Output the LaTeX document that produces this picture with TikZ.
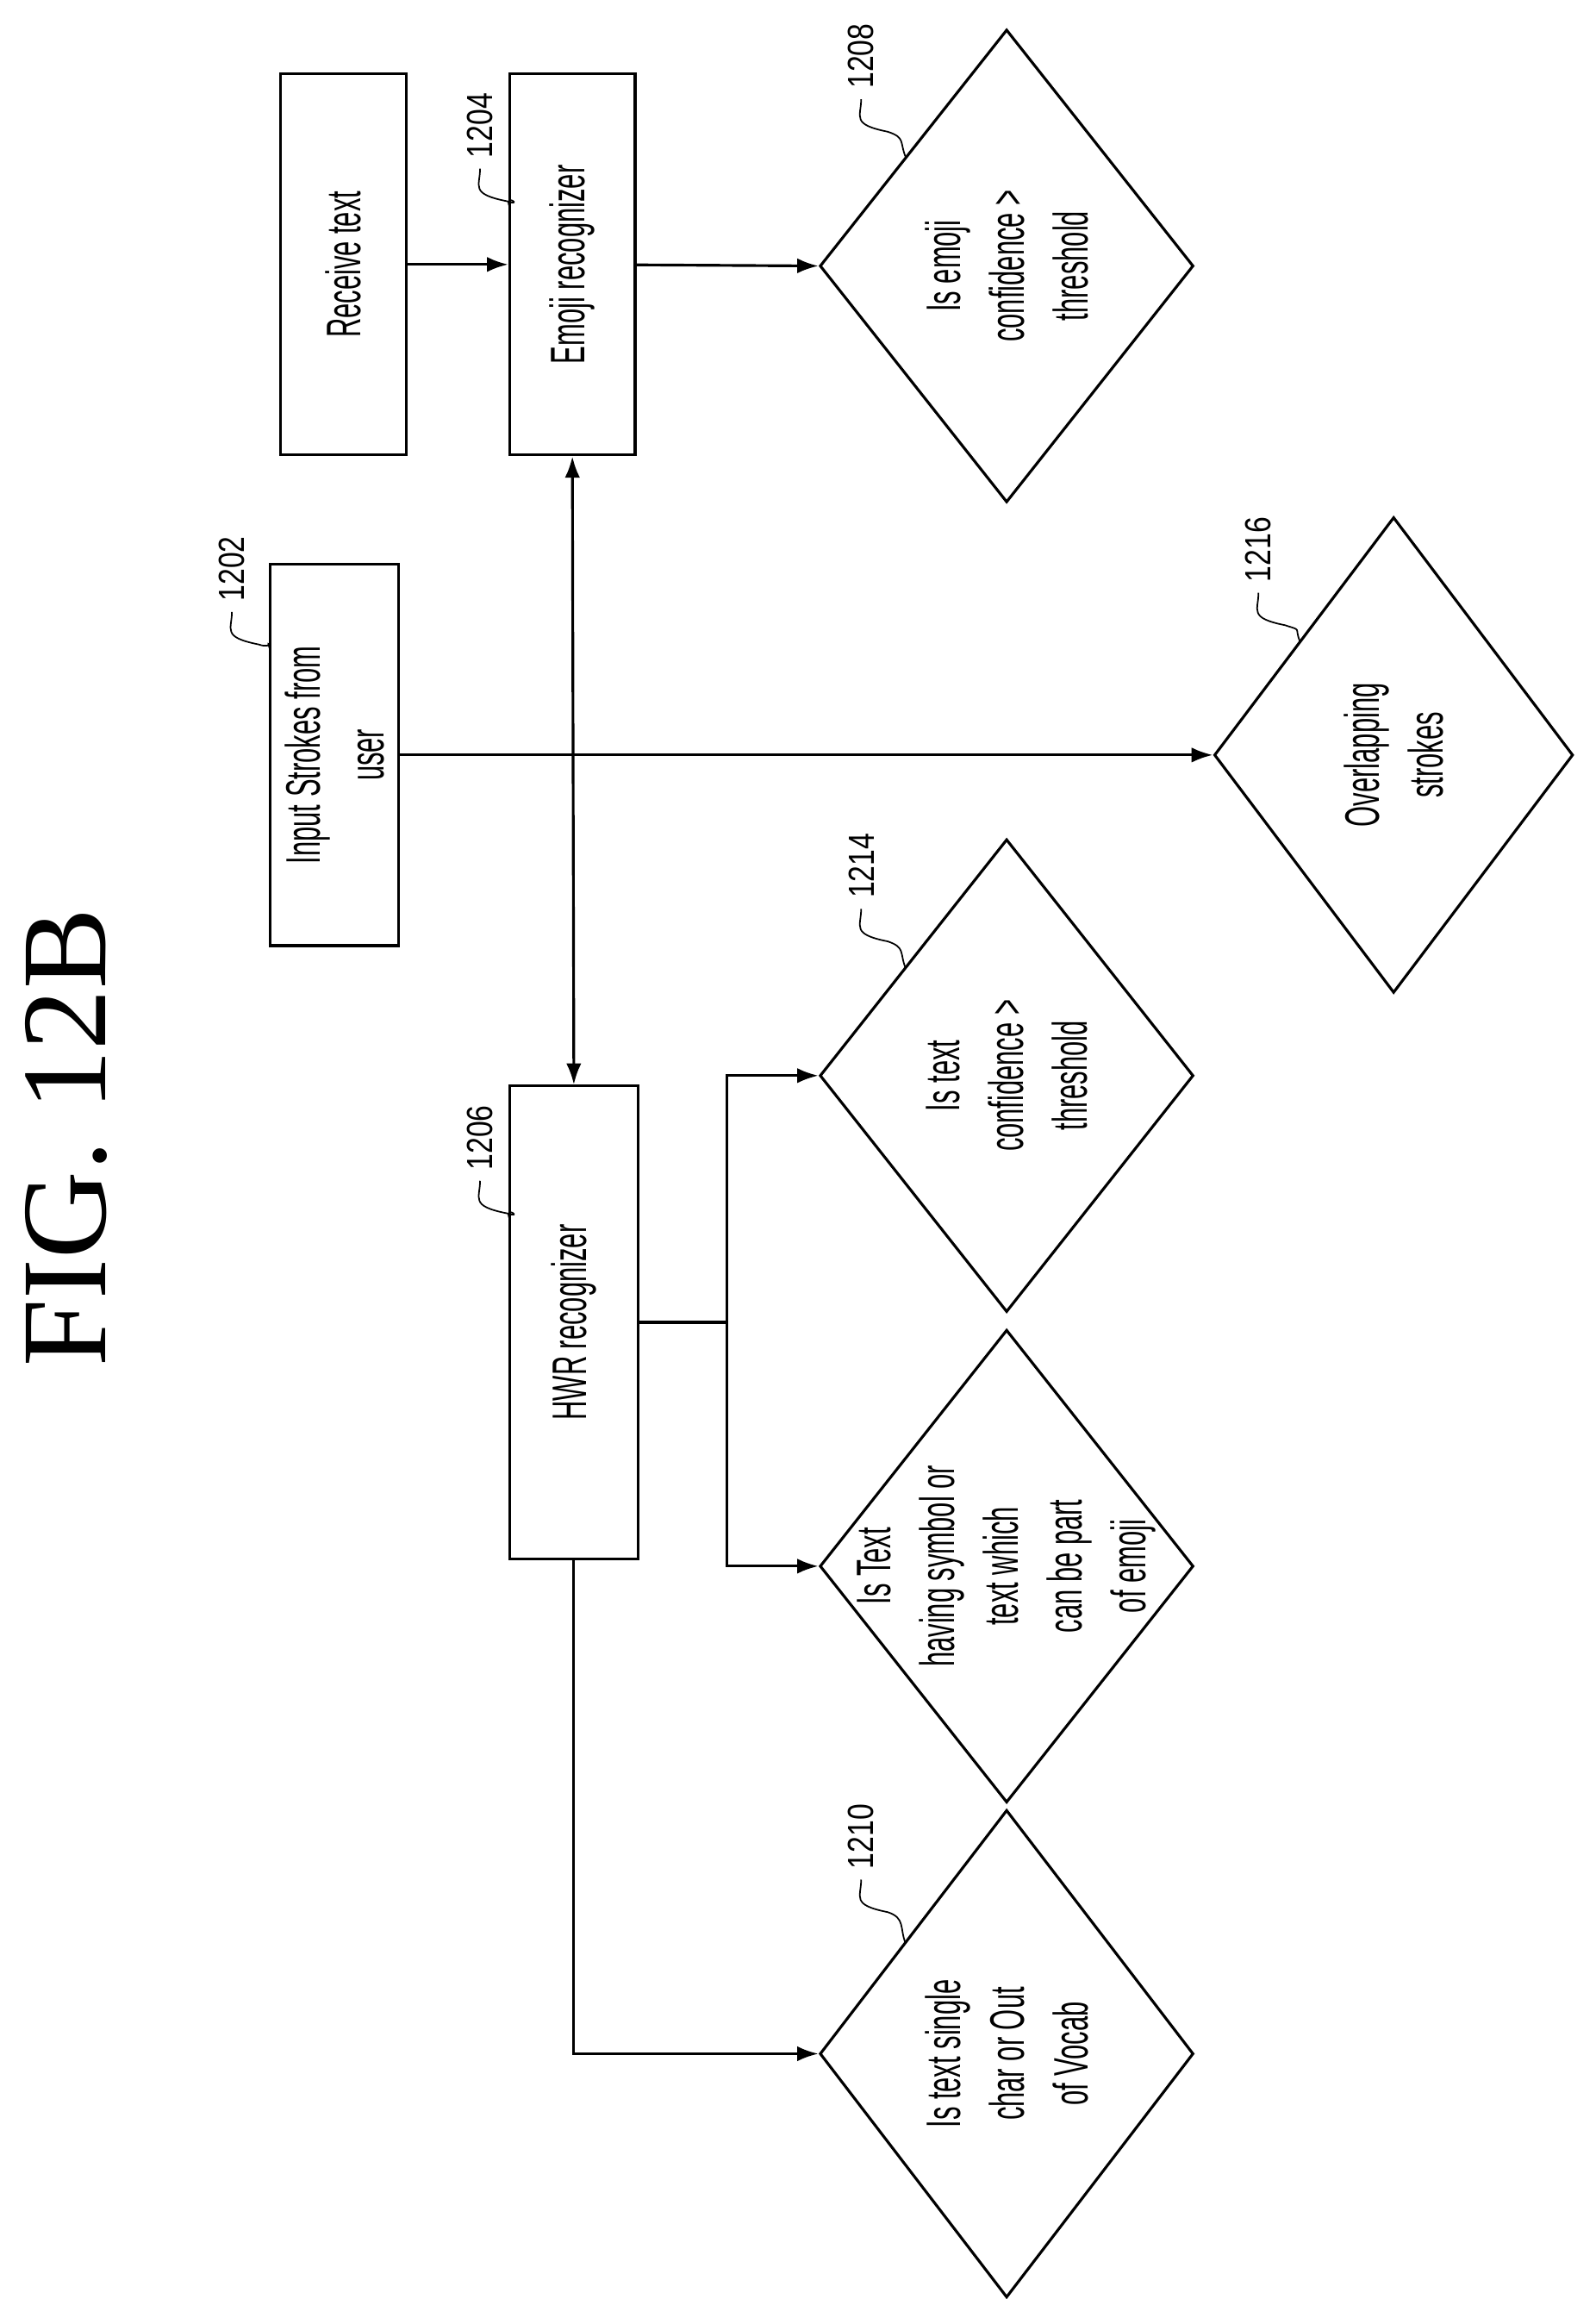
\documentclass[tikz,border=0pt]{standalone}
\usepackage{fontspec}
\setmainfont{Liberation Serif}
\newfontfamily\condfont[FakeStretch=0.55]{Liberation Sans}
\newfontfamily\numfont[FakeStretch=0.8]{Liberation Sans}
\usetikzlibrary{arrows.meta}
\usetikzlibrary{shapes.geometric}
\def\u{0.01714cm}
\tikzset{
  >={Latex[length=7pt,width=5pt]},
  box/.style={draw,line width=0.9pt,inner sep=0pt},
  dia/.style={draw,diamond,line width=0.9pt,inner sep=0pt,aspect=0.79},
  txt/.style={rotate=90,align=center,font=\condfont\fontsize{16}{21}\selectfont},
  refnum/.style={rotate=90,font=\numfont\fontsize{12}{14}\selectfont},
  flow/.style={->,line width=0.9pt},
  leader/.style={line width=0.5pt}
}
% reference numeral with a wavy leader
\newcommand\refmark[4]{
  \node[refnum] (#1) at (#2) {#3};
  \draw[leader] (#1.west) .. controls +(0,12) and +(-25,-5) .. +(18,22)
    .. controls +(12,4) and +(-4,-10) .. (#4);
}
\begin{document}
\begin{tikzpicture}[x=\u,y=-\u]
  \useasboundingbox (0,0) rectangle (1080,1556);

  % TITLE
  \node[rotate=90,font=\fontsize{40}{44}\selectfont] (title) at (45,770) {FIG. 12B};

  % BOXES
  \node[box,minimum width=85*\u,minimum height=258*\u] (recv) at (232.5,179) {};
  \node[txt] at (recv) {Receive text};
  \node[box,minimum width=85*\u,minimum height=258*\u] (emoji) at (387.5,179) {};
  \node[txt] at (emoji) {Emoji recognizer};
  \node[box,minimum width=87*\u,minimum height=258*\u] (input) at (226.5,511) {};
  \node[txt] at (input) {Input Strokes from\\user};
  \node[box,minimum width=87*\u,minimum height=320*\u] (hwr) at (388.5,895) {};
  \node[txt] at (hwr) {HWR recognizer};

  % DECISIONS
  \node[dia,minimum width=253*\u,minimum height=320*\u] (d1208) at (681.5,180) {};
  \node[txt] at (d1208) {Is emoji\\confidence >\\threshold};
  \node[dia,minimum width=243*\u,minimum height=322*\u] (d1216) at (943.5,511) {};
  \node[txt] at (d1216) {Overlapping\\strokes};
  \node[dia,minimum width=253*\u,minimum height=320*\u] (d1214) at (681.5,728) {};
  \node[txt] at (d1214) {Is text\\confidence >\\threshold};
  \node[dia,minimum width=253*\u,minimum height=320*\u] (dsym) at (681.5,1060) {};
  \node[txt] at (dsym) {Is Text\\having symbol or\\text which\\can be part\\of emoji};
  \node[dia,minimum width=253*\u,minimum height=330*\u] (d1210) at (681.5,1390) {};
  \node[txt] at (d1210) {Is text single\\char or Out\\of Vocab};

  % CONNECTORS
  \coordinate (br) at (492,895);
  \draw[flow] (recv) -- (emoji);
  \draw[flow] (emoji) -- (d1208.west);
  \draw[flow] (input) -- (d1216.west);
  \draw[flow,<->] (emoji.south) -- (hwr.north);
  \draw[line width=0.9pt] (hwr.east) -- (br);
  \draw[flow] (br) |- (d1214.west);
  \draw[flow] (br) |- (dsym.west);
  \draw[flow] (hwr.south) |- (d1210.west);

  % REFERENCE NUMERALS
  \refmark{n1202}{157,385}{1202}{183,440}
  \refmark{n1204}{325,85}{1204}{345,140}
  \refmark{n1206}{325,770}{1206}{345,825}
  \refmark{n1208}{583,38}{1208}{613,106}
  \refmark{n1214}{583,586}{1214}{613,655}
  \refmark{n1210}{583,1243}{1210}{613,1315}
  \refmark{n1216}{852,372}{1216}{880,434}
\end{tikzpicture}
\end{document}
